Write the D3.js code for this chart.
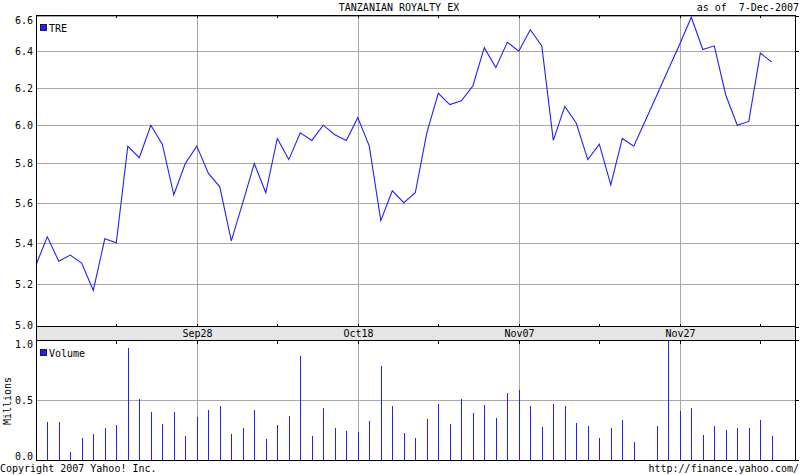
<!DOCTYPE html>
<html>
<head>
<meta charset="utf-8">
<script src="https://cdn.jsdelivr.net/npm/d3@7"></script>
<style>
  body { margin: 0; background: #fff; }
  svg text { font-family: "DejaVu Sans Mono", monospace; font-size: 10px; fill: #000; }
</style>
</head>
<body>
<div id="chart"></div>
<script>
// Trading days (Nov 22 is a holiday, no trade)
const dates = [
  "2007-09-10","2007-09-11","2007-09-12","2007-09-13","2007-09-14",
  "2007-09-17","2007-09-18","2007-09-19","2007-09-20","2007-09-21",
  "2007-09-24","2007-09-25","2007-09-26","2007-09-27","2007-09-28",
  "2007-10-01","2007-10-02","2007-10-03","2007-10-04","2007-10-05",
  "2007-10-08","2007-10-09","2007-10-10","2007-10-11","2007-10-12",
  "2007-10-15","2007-10-16","2007-10-17","2007-10-18","2007-10-19",
  "2007-10-22","2007-10-23","2007-10-24","2007-10-25","2007-10-26",
  "2007-10-29","2007-10-30","2007-10-31","2007-11-01","2007-11-02",
  "2007-11-05","2007-11-06","2007-11-07","2007-11-08","2007-11-09",
  "2007-11-12","2007-11-13","2007-11-14","2007-11-15","2007-11-16",
  "2007-11-19","2007-11-20","2007-11-21","2007-11-23",
  "2007-11-26","2007-11-27","2007-11-28","2007-11-29","2007-11-30",
  "2007-12-03","2007-12-04","2007-12-05","2007-12-06","2007-12-07"
];

// Closing price TRE
const closes = [
  5.29, 5.43, 5.31, 5.34, 5.30,
  5.17, 5.42, 5.40, 5.89, 5.83,
  6.00, 5.90, 5.64, 5.80, 5.89,
  5.75, 5.68, 5.41, 5.60, 5.80,
  5.65, 5.93, 5.82, 5.96, 5.92,
  6.00, 5.95, 5.92, 6.04, 5.89,
  5.51, 5.66, 5.60, 5.65, 5.96,
  6.17, 6.11, 6.13, 6.21, 6.42,
  6.31, 6.45, 6.40, 6.52, 6.43,
  5.92, 6.10, 6.01, 5.82, 5.90,
  5.69, 5.93, 5.89, 6.16,
  6.30, 6.44, 6.59, 6.41, 6.43,
  6.16, 6.00, 6.02, 6.39, 6.34
];

// Volume in millions
const volumes = [
  0.30, 0.317, 0.317, 0.067, 0.183,
  0.217, 0.267, 0.292, 0.933, 0.508,
  0.40, 0.30, 0.40, 0.20, 0.358,
  0.417, 0.45, 0.217, 0.267, 0.417,
  0.175, 0.292, 0.367, 0.867, 0.20,
  0.433, 0.267, 0.242, 0.233, 0.325,
  0.783, 0.45, 0.225, 0.183, 0.342,
  0.467, 0.30, 0.508, 0.392, 0.458,
  0.35, 0.558, 0.583, 0.45, 0.275,
  0.467, 0.45, 0.308, 0.283, 0.183,
  0.267, 0.333, 0.15, 0.283,
  0.99, 0.408, 0.433, 0.208, 0.283,
  0.25, 0.267, 0.267, 0.333, 0.20
];

// Axis ticks
const majorTickDates = ["2007-09-28", "2007-10-18", "2007-11-07", "2007-11-27"];
const majorTickLabels = ["Sep28", "Oct18", "Nov07", "Nov27"];
const minorTickDates = ["2007-09-19", "2007-10-09", "2007-10-29", "2007-11-16", "2007-12-06"];
const priceTicks = [5.0, 5.2, 5.4, 5.6, 5.8, 6.0, 6.2, 6.4, 6.6];
const volumeTicks = [0.0, 0.5, 1.0];

const W = 800, H = 475;
const left = 36, right = 795;
const priceTop = 15, priceBottom = 326;
const stripBottom = 340;
const volTop = 340, volBottom = 460;
const blue = "#2020ff";
const gridColor = "#a8a8a8";

// Weekday index from the first day (Monday)
const start = new Date(dates[0] + "T00:00:00Z");
function dayIndex(s) {
  const days = Math.round((new Date(s + "T00:00:00Z") - start) / 864e5);
  return Math.floor(days / 7) * 5 + (days % 7);
}

const data = dates.map((d, i) => ({ idx: dayIndex(d), close: closes[i], vol: volumes[i] }));

const x = d3.scaleLinear().domain([0, 64]).range([35.8, 771.8]);
const y = d3.scalePow().exponent(0.3).domain([5.0, 6.6]).range([priceBottom + 0.5, priceTop + 0.5]);
const yv = d3.scaleLinear().domain([0, 1]).range([volBottom, volTop]);

const svg = d3.select("#chart")
  .append("svg")
  .attr("width", W)
  .attr("height", H);

svg.append("rect").attr("width", W).attr("height", H).attr("fill", "#fff");

svg.append("defs").append("clipPath")
  .attr("id", "clip-price")
  .append("rect")
  .attr("x", left).attr("y", priceTop)
  .attr("width", right - left).attr("height", priceBottom - priceTop + 1);

// Price gridlines
svg.append("g")
  .selectAll("line")
  .data(priceTicks)
  .join("line")
  .attr("x1", left).attr("x2", right)
  .attr("y1", d => Math.round(y(d)) + 0.5)
  .attr("y2", d => Math.round(y(d)) + 0.5)
  .attr("stroke", gridColor)
  .attr("shape-rendering", "crispEdges");

// Volume gridline
svg.append("line")
  .attr("x1", left).attr("x2", right)
  .attr("y1", yv(0.5) + 0.5).attr("y2", yv(0.5) + 0.5)
  .attr("stroke", gridColor)
  .attr("shape-rendering", "crispEdges");

// Vertical gridlines at major ticks (both panels)
const majorX = majorTickDates.map(d => Math.round(x(dayIndex(d))) + 0.5);
const minorX = minorTickDates.map(d => Math.round(x(dayIndex(d))) + 0.5);

[[priceTop, priceBottom], [volTop, volBottom]].forEach(([t, b]) => {
  svg.append("g")
    .selectAll("line")
    .data(majorX)
    .join("line")
    .attr("x1", d => d).attr("x2", d => d)
    .attr("y1", t).attr("y2", b)
    .attr("stroke", gridColor)
    .attr("shape-rendering", "crispEdges");
});

// Price line
const line = d3.line()
  .x(d => x(d.idx))
  .y(d => y(d.close));

svg.append("path")
  .datum(data)
  .attr("clip-path", "url(#clip-price)")
  .attr("fill", "none")
  .attr("stroke", blue)
  .attr("stroke-width", 1.1)
  .attr("d", line);

// Volume bars
svg.append("g")
  .selectAll("rect")
  .data(data)
  .join("rect")
  .attr("x", d => Math.round(x(d.idx)))
  .attr("width", 1)
  .attr("y", d => Math.round(yv(d.vol)))
  .attr("height", d => volBottom - Math.round(yv(d.vol)))
  .attr("fill", blue)
  .attr("shape-rendering", "crispEdges");

// Date strip
svg.append("rect")
  .attr("x", left).attr("y", priceBottom)
  .attr("width", right - left).attr("height", stripBottom - priceBottom)
  .attr("fill", "#e5e5e5");

// Borders
const border = svg.append("g")
  .attr("stroke", "#000")
  .attr("shape-rendering", "crispEdges");

[priceTop, priceBottom, stripBottom, volBottom].forEach(v => {
  border.append("line")
    .attr("x1", left).attr("x2", right + 1)
    .attr("y1", v + 0.5).attr("y2", v + 0.5);
});
border.append("line")
  .attr("x1", left + 0.5).attr("x2", left + 0.5)
  .attr("y1", priceTop).attr("y2", volBottom + 1);
border.append("line")
  .attr("x1", right + 0.5).attr("x2", right + 0.5)
  .attr("y1", priceTop).attr("y2", volBottom + 1);

// Small tick marks on panel edges
const allTickX = majorX.concat(minorX);
allTickX.forEach(tx => {
  border.append("line").attr("x1", tx).attr("x2", tx).attr("y1", priceTop).attr("y2", priceTop + 3);
  border.append("line").attr("x1", tx).attr("x2", tx).attr("y1", priceBottom - 2).attr("y2", priceBottom + 1);
  border.append("line").attr("x1", tx).attr("x2", tx).attr("y1", stripBottom).attr("y2", stripBottom + 4);
});

// Right side y ticks
priceTicks.forEach(v => {
  const ty = Math.round(y(v)) + 0.5;
  border.append("line").attr("x1", right).attr("x2", right + 4).attr("y1", ty).attr("y2", ty);
});
volumeTicks.forEach(v => {
  const ty = yv(v) + 0.5;
  border.append("line").attr("x1", right).attr("x2", right + 4).attr("y1", ty).attr("y2", ty);
});

// Y labels, price
svg.append("g")
  .selectAll("text")
  .data(priceTicks)
  .join("text")
  .attr("x", 33)
  .attr("y", d => Math.max(priceTop + 9, Math.min(priceBottom + 3, y(d) + 4)))
  .attr("text-anchor", "end")
  .text(d => d.toFixed(1));

// Y labels, volume
svg.append("g")
  .selectAll("text")
  .data(volumeTicks)
  .join("text")
  .attr("x", 33)
  .attr("y", d => Math.max(volTop + 8, Math.min(volBottom, yv(d) + 4)))
  .attr("text-anchor", "end")
  .text(d => d.toFixed(1));

svg.append("text")
  .attr("transform", "translate(11,401) rotate(-90)")
  .attr("text-anchor", "middle")
  .text("Millions");

// Date labels in the strip
svg.append("g")
  .selectAll("text")
  .data(majorTickLabels)
  .join("text")
  .attr("x", (d, i) => majorX[i])
  .attr("y", 337)
  .attr("text-anchor", "middle")
  .text(d => d);

// Legends
svg.append("rect")
  .attr("x", 40.5).attr("y", 24.5).attr("width", 6).attr("height", 6)
  .attr("fill", blue).attr("stroke", "#000").attr("stroke-width", 0.8);
svg.append("text").attr("x", 49).attr("y", 32).text("TRE");

svg.append("rect")
  .attr("x", 40.5).attr("y", 349.5).attr("width", 6).attr("height", 6)
  .attr("fill", blue).attr("stroke", "#000").attr("stroke-width", 0.8);
svg.append("text").attr("x", 49).attr("y", 357).text("Volume");

// Title and notes
svg.append("text")
  .attr("x", 399).attr("y", 11)
  .attr("text-anchor", "middle")
  .text("TANZANIAN ROYALTY EX");

svg.append("text")
  .attr("x", 799).attr("y", 11)
  .attr("text-anchor", "end")
  .attr("xml:space", "preserve")
  .style("white-space", "pre")
  .text("as of  7-Dec-2007");

svg.append("text")
  .attr("x", 0).attr("y", 472)
  .text("Copyright 2007 Yahoo! Inc.");

svg.append("text")
  .attr("x", 799).attr("y", 472)
  .attr("text-anchor", "end")
  .text("http://finance.yahoo.com/");
</script>
</body>
</html>
